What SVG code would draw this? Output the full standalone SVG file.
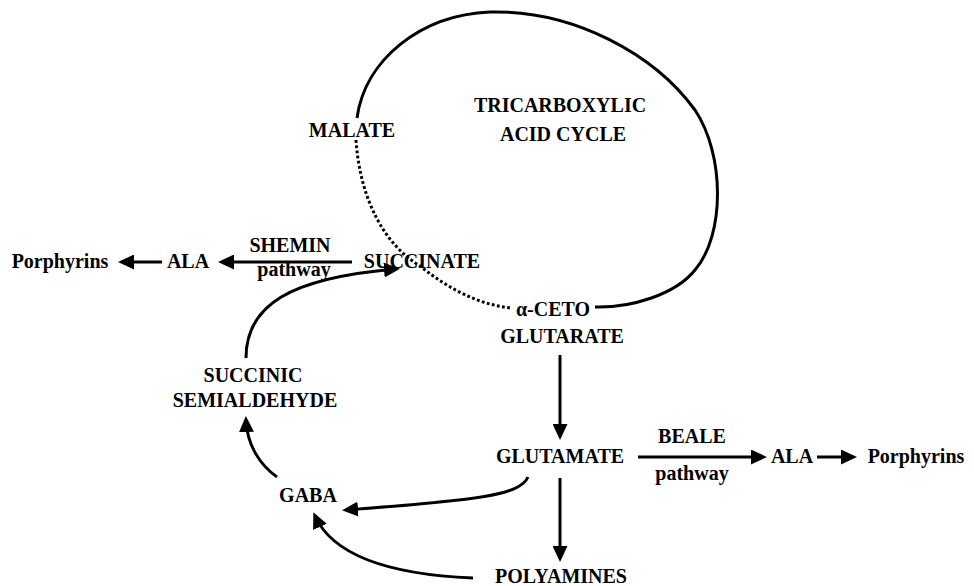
<svg xmlns="http://www.w3.org/2000/svg" width="974" height="586" viewBox="0 0 974 586">
<style>
text{font-family:"Liberation Serif","Times New Roman",serif;font-weight:bold;font-size:20px;fill:#000;text-anchor:middle}
.ln{fill:none;stroke:#000;stroke-width:3}
.dot{fill:none;stroke:#000;stroke-width:3;stroke-dasharray:2.8 2.4}
</style>
<defs>
<marker id="ah" viewBox="0 0 16 15" markerWidth="16" markerHeight="15" refX="12" refY="7.5" orient="auto" markerUnits="userSpaceOnUse">
<path d="M0,0 L16,7.5 L0,15 z" fill="#000"/>
</marker>
</defs>
<rect width="974" height="586" fill="#fff"/>
<g id="cycle">
<path class="ln" d="M357,118 C365,60 420,15 490,12 C575,10 655,55 695,110 C725,155 725,235 695,270 C675,295 630,308 595,307"/>
<path class="dot" d="M356,140 C360,200 385,245 420,266 C450,290 480,305 512,308"/>
<text x="560" y="112">TRICARBOXYLIC</text>
<text x="563" y="141">ACID CYCLE</text>
</g>
<g id="malate"><text x="352" y="137">MALATE</text></g>
<g id="succinate"><text x="422" y="268">SUCCINATE</text></g>
<g id="ketoglutarate"><text x="553" y="316">α-CETO</text><text x="562" y="343">GLUTARATE</text></g>
<g id="ala-left"><text x="188" y="268">ALA</text></g>
<g id="porphyrins-left"><text x="60" y="268">Porphyrins</text></g>
<g id="ssa"><text x="253" y="382">SUCCINIC</text><text x="255" y="407">SEMIALDEHYDE</text></g>
<g id="glutamate"><text x="560" y="463">GLUTAMATE</text></g>
<g id="ala-right"><text x="792" y="463">ALA</text></g>
<g id="porphyrins-right"><text x="916" y="463">Porphyrins</text></g>
<g id="gaba"><text x="308" y="502">GABA</text></g>
<g id="polyamines"><text x="561" y="583">POLYAMINES</text></g>
<g id="connectors">
<path class="ln" d="M352,262 L222,262" marker-end="url(#ah)"/>
<text x="290" y="252">SHEMIN</text>
<text x="294" y="276">pathway</text>
<path class="ln" d="M162,262 L122,262" marker-end="url(#ah)"/>
<path class="ln" d="M560,355 L560,436" marker-end="url(#ah)"/>
<path class="ln" d="M560,478 L560,558" marker-end="url(#ah)"/>
<path class="ln" d="M638,457 L763,457" marker-end="url(#ah)"/>
<text x="692" y="443">BEALE</text>
<text x="692" y="480">pathway</text>
<path class="ln" d="M817,457 L853,457" marker-end="url(#ah)"/>
<path class="ln" d="M246,358 C246,305 290,278 396,269" marker-end="url(#ah)"/>
<path class="ln" d="M277,477 C260,465 247,445 246,420" marker-end="url(#ah)"/>
<path class="ln" d="M528,477 C520,495 480,500 346,510" marker-end="url(#ah)"/>
<path class="ln" d="M473,578 C400,575 335,560 315,516" marker-end="url(#ah)"/>
</g>
</svg>
